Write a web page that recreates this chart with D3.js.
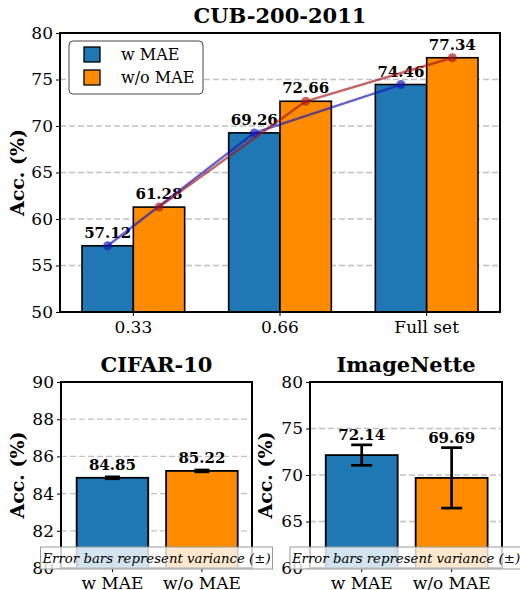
<!DOCTYPE html>
<html><head><meta charset="utf-8">
<script src="https://cdn.jsdelivr.net/npm/d3@7"></script>
<style>body{margin:0;background:#fff}svg{display:block}</style>
</head><body><svg id="c" width="520" height="590"></svg>
<script>
// ---- data ----
const cubCategories = ["0.33", "0.66", "Full set"];
const cubWithMAE = [57.12, 69.26, 74.46];
const cubWithoutMAE = [61.28, 72.66, 77.34];
const cubTicks = [50, 55, 60, 65, 70, 75, 80];

const smallCategories = ["w MAE", "w/o MAE"];
const cifarValues = [84.85, 85.22];
const cifarErrors = [0.05, 0.05];
const cifarTicks = [80, 82, 84, 86, 88, 90];

const imagenetteValues = [72.14, 69.69];
const imagenetteErrors = [1.1, 3.25];
const imagenetteTicks = [60, 65, 70, 75, 80];

const seriesNames = ["w MAE", "w/o MAE"];
const colors = ["#1f77b4", "#ff8c00"];
const lineColors = ["rgba(25,25,185,0.68)", "rgba(165,20,20,0.65)"];

const FONT = "DejaVu Serif";
const svg = d3.select("#c");

function gridAndAxes(g, x0, x1, y, ticks) {
  g.append("g").selectAll("line").data(ticks).join("line")
    .attr("x1", x0).attr("x2", x1)
    .attr("y1", d => y(d)).attr("y2", d => y(d))
    .attr("stroke", "#b0b0b0").attr("stroke-opacity", 0.8)
    .attr("stroke-width", 1.3).attr("stroke-dasharray", "6,3");
}
function yAxis(g, x0, y, ticks) {
  const ax = g.append("g").attr("transform", `translate(${x0},0)`)
    .call(d3.axisLeft(y).tickValues(ticks).tickSize(4).tickPadding(3).tickFormat(d3.format("d")));
  ax.select(".domain").remove();
  ax.selectAll("text").attr("font-family", FONT).attr("font-size", 17).attr("fill", "#000");
  ax.selectAll("line").attr("stroke", "#000");
}
function xAxisBand(g, y1, xs, labels) {
  const ax = g.append("g");
  ax.selectAll("line").data(labels).join("line")
    .attr("x1", (d, i) => xs(i)).attr("x2", (d, i) => xs(i))
    .attr("y1", y1).attr("y2", y1 + 4).attr("stroke", "#000");
  ax.selectAll("text").data(labels).join("text")
    .attr("x", (d, i) => xs(i)).attr("y", y1 + 21)
    .attr("text-anchor", "middle").attr("font-family", FONT).attr("font-size", 17)
    .text(d => d);
}
function frame(g, x0, x1, y0, y1) {
  g.append("rect").attr("x", x0).attr("y", y0).attr("width", x1 - x0).attr("height", y1 - y0)
    .attr("fill", "none").attr("stroke", "#000").attr("stroke-width", 2);
}
function title(g, cx, y, t) {
  g.append("text").attr("x", cx).attr("y", y).attr("text-anchor", "middle")
    .attr("font-family", FONT).attr("font-weight", "bold").attr("font-size", 21).text(t);
}
function ylabel(g, x, cy) {
  g.append("text").attr("transform", `translate(${x},${cy}) rotate(-90)`)
    .attr("text-anchor", "middle").attr("font-family", FONT).attr("font-weight", "bold")
    .attr("font-size", 19).text("Acc. (%)");
}

// ---- top chart ----
{
  const x0 = 60, x1 = 500, y0 = 33, y1 = 312;
  const g = svg.append("g");
  const x = d3.scaleLinear().domain([-0.5, 2.5]).range([x0, x1]);
  const y = d3.scaleLinear().domain([50, 80]).range([y1, y0]);
  const bw = 0.35;
  gridAndAxes(g, x0, x1, y, cubTicks.slice(1, -1));
  const series = [cubWithMAE, cubWithoutMAE];
  series.forEach((vals, s) => {
    g.append("g").selectAll("rect").data(vals).join("rect")
      .attr("x", (d, i) => x(i + (s === 0 ? -bw : 0)))
      .attr("width", x(bw) - x(0))
      .attr("y", d => y(d)).attr("height", d => y1 - y(d))
      .attr("fill", colors[s]).attr("stroke", "#000").attr("stroke-width", 1.6);
  });
  series.forEach((vals, s) => {
    const cx = i => x(i + (s === 0 ? -bw / 2 : bw / 2));
    g.append("g").selectAll("text").data(vals).join("text")
      .attr("x", (d, i) => cx(i)).attr("y", d => y(d) - 8)
      .attr("text-anchor", "middle").attr("font-family", FONT).attr("font-weight", "bold")
      .attr("font-size", 15).text(d => d.toFixed(2));
  });
  series.forEach((vals, s) => {
    const cx = i => x(i + (s === 0 ? -bw / 2 : bw / 2));
    const line = d3.line().x((d, i) => cx(i)).y(d => y(d));
    g.append("path").datum(vals).attr("d", line).attr("fill", "none")
      .attr("stroke", lineColors[s]).attr("stroke-width", 2.4);
    g.append("g").selectAll("circle").data(vals).join("circle")
      .attr("cx", (d, i) => cx(i)).attr("cy", d => y(d)).attr("r", 4.5)
      .attr("fill", lineColors[s]);
  });
  yAxis(g, x0, y, cubTicks);
  xAxisBand(g, y1, i => x(i), cubCategories);
  frame(g, x0, x1, y0, y1);
  title(g, (x0 + x1) / 2, 23, "CUB-200-2011");
  ylabel(g, 24, (y0 + y1) / 2);
  // legend
  const lg = g.append("g");
  lg.append("rect").attr("x", 69).attr("y", 41).attr("width", 134).attr("height", 53).attr("rx", 4)
    .attr("fill", "#fff").attr("stroke", "#444").attr("stroke-width", 1);
  seriesNames.forEach((n, i) => {
    lg.append("rect").attr("x", 84).attr("y", 47 + i * 23).attr("width", 16).attr("height", 15)
      .attr("fill", colors[i]).attr("stroke", "#000").attr("stroke-width", 1.3);
    lg.append("text").attr("x", 121).attr("y", 60 + i * 23).attr("font-family", FONT)
      .attr("font-size", 16).text(n);
  });
}

// ---- small charts ----
function small(x0, x1, y0, y1, domain, ticks, vals, errs, capW, labelOff, ttl, ylx) {
  const g = svg.append("g");
  const x = d3.scaleLinear().domain([-0.575, 1.56]).range([x0, x1]);
  const y = d3.scaleLinear().domain(domain).range([y1, y0]);
  const bw = 0.8;
  gridAndAxes(g, x0, x1, y, ticks.slice(1, -1));
  g.append("g").selectAll("rect").data(vals).join("rect")
    .attr("x", (d, i) => x(i - bw / 2)).attr("width", x(bw) - x(0))
    .attr("y", d => y(d)).attr("height", d => y1 - y(d))
    .attr("fill", (d, i) => colors[i]).attr("stroke", "#000").attr("stroke-width", 1.8);
  const eg = g.append("g");
  vals.forEach((v, i) => {
    const cx = x(i), top = y(v + errs[i]), bot = y(v - errs[i]);
    eg.append("line").attr("x1", cx).attr("x2", cx).attr("y1", top).attr("y2", bot)
      .attr("stroke", "#000").attr("stroke-width", 2.7);
    [top, bot].forEach(yy => eg.append("line").attr("x1", cx - capW / 2).attr("x2", cx + capW / 2)
      .attr("y1", yy).attr("y2", yy).attr("stroke", "#000").attr("stroke-width", 2.7));
  });
  g.append("g").selectAll("text").data(vals).join("text")
    .attr("x", (d, i) => x(i)).attr("y", (d, i) => y(d + errs[i]) - labelOff)
    .attr("text-anchor", "middle").attr("font-family", FONT).attr("font-weight", "bold")
    .attr("font-size", 15).text(d => d.toFixed(2));
  yAxis(g, x0, y, ticks);
  xAxisBand(g, y1, i => x(i), smallCategories);
  frame(g, x0, x1, y0, y1);
  title(g, (x0 + x1) / 2, 372, ttl);
  ylabel(g, ylx, (y0 + y1) / 2);
  const cx = (x0 + x1) / 2;
  g.append("rect").attr("x", cx - 116).attr("y", 547).attr("width", 232).attr("height", 22)
    .attr("fill", "rgba(255,255,255,0.8)").attr("stroke", "#999").attr("stroke-width", 1);
  g.append("text").attr("x", cx).attr("y", 563).attr("text-anchor", "middle")
    .attr("font-family", FONT).attr("font-style", "italic").attr("font-size", 13.3)
    .text("Error bars represent variance (±)");
}
small(61, 252, 382, 568, [80, 90], cifarTicks, cifarValues, cifarErrors, 15, 7, "CIFAR-10", 24);
small(310, 502, 382, 568, [60, 80], imagenetteTicks, imagenetteValues, imagenetteErrors, 21, 5, "ImageNette", 272);
</script></body></html>
